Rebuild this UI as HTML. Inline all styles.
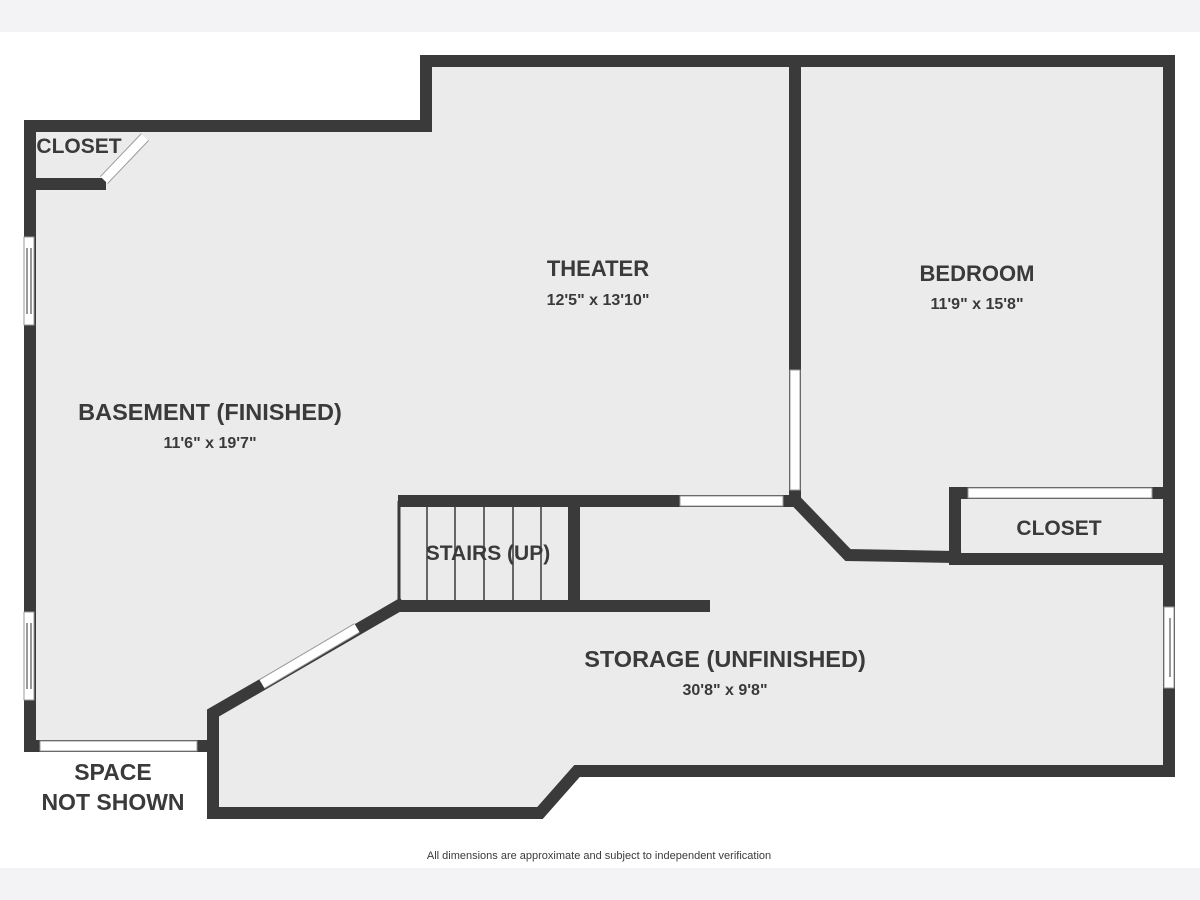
<!DOCTYPE html>
<html><head><meta charset="utf-8"><style>
html,body{margin:0;padding:0;background:#fff;}
svg{display:block;}
text{font-family:"Liberation Sans",sans-serif;fill:#3a3a3a;font-weight:bold;}
</style></head><body>
<svg width="1200" height="900" viewBox="0 0 1200 900" xmlns="http://www.w3.org/2000/svg">
<rect x="0" y="0" width="1200" height="32" fill="#f3f3f5"/>
<rect x="0" y="868" width="1200" height="32" fill="#f3f3f5"/>
<polygon points="30,126 426,126 426,61 1169,61 1169,771 577,771 540,813 213,813 213,746 30,746" fill="#ebebeb"/>
<g stroke="#3a3a3a" stroke-width="12" fill="none" stroke-linejoin="miter" stroke-linecap="square">
<polyline points="30,746 30,126 426,126 426,61 1169,61 1169,771 577,771 540,813 213,813 213,713 398,606"/>
<line x1="30" y1="746" x2="213" y2="746"/>
<line x1="30" y1="184" x2="100" y2="184"/>
<line x1="795" y1="61" x2="795" y2="500"/>
<polyline points="795,500 848,555 955,557"/>
<line x1="955" y1="493" x2="955" y2="557"/>
<line x1="955" y1="493" x2="1169" y2="493"/>
<line x1="955" y1="559" x2="1169" y2="559"/>
<line x1="574" y1="501" x2="574" y2="606"/>
</g>
<g stroke="#3a3a3a" stroke-width="12" stroke-linecap="butt">
<line x1="398" y1="606" x2="710" y2="606"/>
<line x1="398" y1="501" x2="795" y2="501"/>
</g>
<g stroke="#3a3a3a" stroke-width="1.5">
<line x1="399" y1="501" x2="399" y2="606" stroke-width="3"/>
<line x1="427" y1="506" x2="427" y2="601"/>
<line x1="455" y1="506" x2="455" y2="601"/>
<line x1="484" y1="506" x2="484" y2="601"/>
<line x1="513" y1="506" x2="513" y2="601"/>
<line x1="541" y1="506" x2="541" y2="601"/>
</g>
<g fill="#fff" stroke="#999" stroke-width="1">
<rect x="40" y="741" width="157" height="10"/>
<rect x="680" y="496" width="103" height="10"/>
<rect x="790" y="370" width="10" height="120"/>
<rect x="968" y="488" width="184" height="10"/>
<rect x="24" y="237" width="10" height="88"/>
<rect x="24" y="612" width="10" height="88"/>
<rect x="1164" y="607" width="10" height="81"/>
</g>
<g stroke="#333" stroke-width="1">
<line x1="27" y1="248" x2="27" y2="314"/><line x1="31" y1="248" x2="31" y2="314"/>
<line x1="27" y1="623" x2="27" y2="689"/><line x1="31" y1="623" x2="31" y2="689"/>
<line x1="1170" y1="618" x2="1170" y2="677"/>
</g>
<line x1="262" y1="684" x2="357" y2="628" stroke="#999" stroke-width="11"/>
<line x1="262" y1="684" x2="357" y2="628" stroke="#fff" stroke-width="9"/>
<line x1="104" y1="180" x2="145" y2="137" stroke="#999" stroke-width="11"/>
<line x1="104" y1="180" x2="145" y2="137" stroke="#fff" stroke-width="9"/>
<g text-anchor="middle">
<text x="79" y="153" font-size="21">CLOSET</text>
<text x="598" y="276" font-size="22">THEATER</text>
<text x="598" y="305" font-size="16">12'5" x 13'10"</text>
<text x="977" y="281" font-size="22">BEDROOM</text>
<text x="977" y="309" font-size="16">11'9" x 15'8"</text>
<text x="210" y="420" font-size="23.5">BASEMENT (FINISHED)</text>
<text x="210" y="448" font-size="16">11'6" x 19'7"</text>
<text x="488" y="560" font-size="21">STAIRS (UP)</text>
<text x="1059" y="535" font-size="21">CLOSET</text>
<text x="725" y="667" font-size="23.5">STORAGE (UNFINISHED)</text>
<text x="725" y="695" font-size="16">30'8" x 9'8"</text>
<text x="113" y="780" font-size="23">SPACE</text>
<text x="113" y="810" font-size="23">NOT SHOWN</text>
<text x="599" y="859" font-size="11" style="font-weight:normal">All dimensions are approximate and subject to independent verification</text>
</g>
</svg>
</body></html>
